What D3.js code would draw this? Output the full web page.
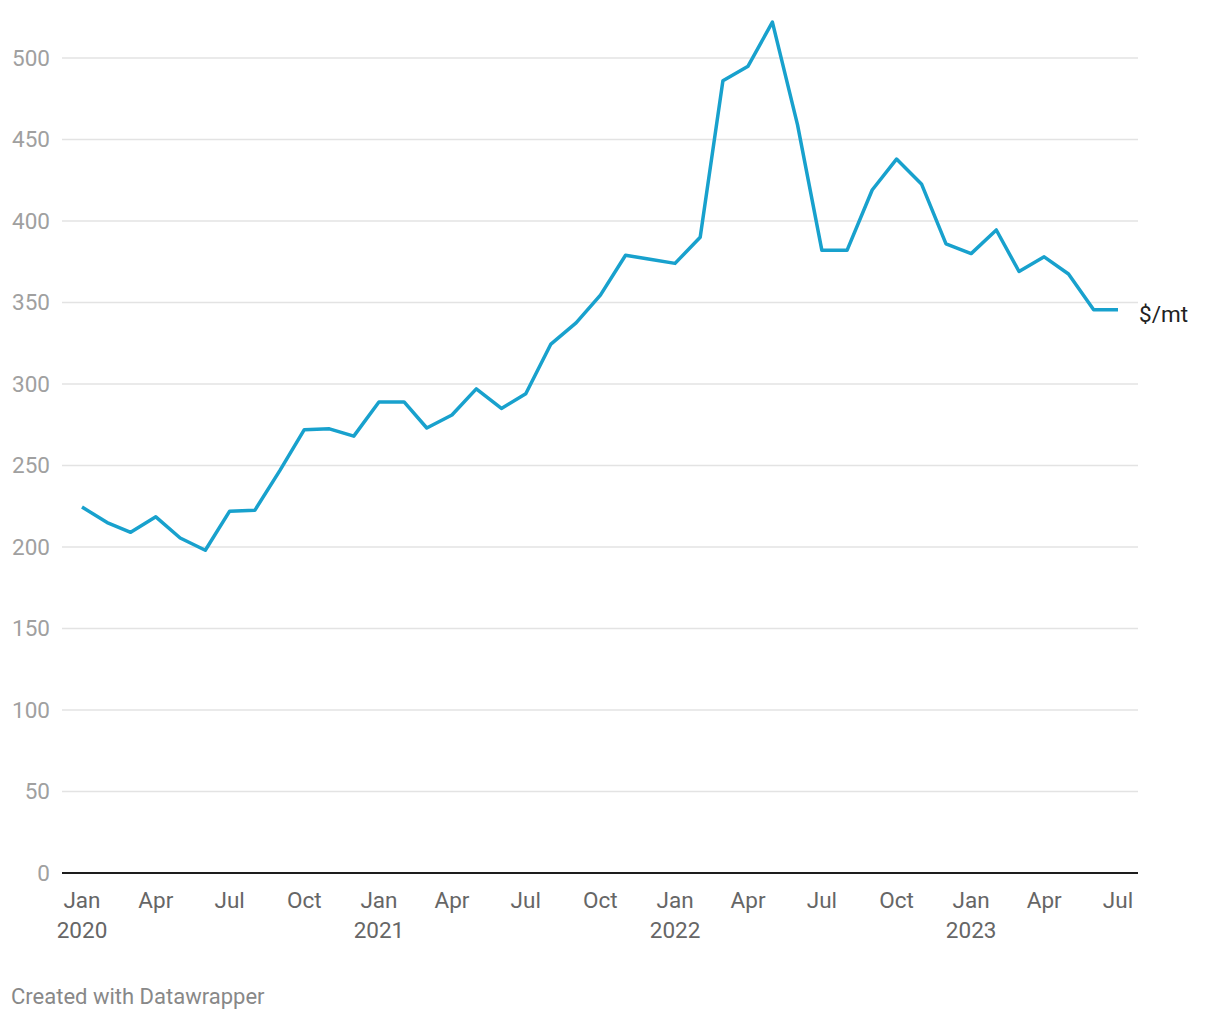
<!DOCTYPE html>
<html>
<head>
<meta charset="utf-8">
<script src="https://cdn.jsdelivr.net/npm/d3@7"></script>
<style>
  body { margin: 0; background: #fff; font-family: Roboto, "Noto Sans", sans-serif; }
</style>
</head>
<body>
<script>
// monthly prices, Jan 2020 .. Jul 2023
var startMonth = "2020-01";
var prices = [224.5, 215, 209, 218.5, 205.5, 198, 222, 222.5, 247, 272, 272.5, 268,
              289, 289, 273, 281, 297, 285, 294, 324.5, 337.5, 354.5, 379, 376.5,
              374, 390, 486, 495, 522, 459, 382, 382, 419, 438, 422.5, 386,
              380, 394.5, 369, 378, 367.5, 345.5, 345.5];
var yTicks = [0, 50, 100, 150, 200, 250, 300, 350, 400, 450, 500];
var unitLabel = "$/mt";

var width = 1220, height = 1020;
var plotLeft = 62, plotRight = 1138, plotTop = 58, plotBottom = 873;

var parse = d3.timeParse("%Y-%m");
var t0 = parse(startMonth);
var data = prices.map(function(v, i) { return { date: d3.timeMonth.offset(t0, i), value: v }; });

var svg = d3.select("body").append("svg").attr("width", width).attr("height", height);

var x = d3.scaleTime()
    .domain(d3.extent(data, function(d) { return d.date; }))
    .range([plotLeft + 20, plotRight - 20]);
var y = d3.scaleLinear().domain([0, 500]).range([plotBottom, plotTop]);

// grid
svg.append("g").selectAll("line").data(yTicks.filter(function(t) { return t > 0; }))
  .enter().append("line")
  .attr("x1", plotLeft).attr("x2", plotRight)
  .attr("y1", function(d) { return y(d); }).attr("y2", function(d) { return y(d); })
  .attr("stroke", "#e3e3e3").attr("stroke-width", 1.5);

// y labels
svg.append("g").selectAll("text").data(yTicks)
  .enter().append("text")
  .attr("x", 50).attr("y", function(d) { return y(d); })
  .attr("dy", "0.35em").attr("text-anchor", "end")
  .attr("fill", "#a0a0a0").style("font-size", "22.5px")
  .text(function(d) { return d; });

// baseline
svg.append("line").attr("x1", plotLeft).attr("x2", plotRight)
  .attr("y1", y(0)).attr("y2", y(0))
  .attr("stroke", "#1d1d1d").attr("stroke-width", 2);

// x labels
var xTicks = data.filter(function(d, i) { return i % 3 == 0; }).map(function(d) { return d.date; });
var xl = svg.append("g").selectAll("text").data(xTicks).enter().append("text")
  .attr("x", function(d) { return x(d); }).attr("y", 908)
  .attr("text-anchor", "middle").attr("fill", "#666").style("font-size", "22.5px");
xl.append("tspan").attr("x", function(d) { return x(d); })
  .text(function(d) { return d3.timeFormat("%b")(d); });
xl.filter(function(d) { return d.getMonth() == 0; })
  .append("tspan").attr("x", function(d) { return x(d); }).attr("dy", 30)
  .text(function(d) { return d.getFullYear(); });

// line
var line = d3.line().x(function(d) { return x(d.date); }).y(function(d) { return y(d.value); });
svg.append("path").datum(data).attr("d", line)
  .attr("fill", "none").attr("stroke", "#18a1cd").attr("stroke-width", 3.5)
  .attr("stroke-linejoin", "round");

var last = data[data.length - 1];
svg.append("text").attr("x", x(last.date) + 21).attr("y", y(last.value) + 4)
  .attr("dy", "0.35em").attr("fill", "#222").style("font-size", "22.5px")
  .text(unitLabel);

svg.append("text").attr("x", 11).attr("y", 1004)
  .attr("fill", "#888").style("font-size", "22px")
  .text("Created with Datawrapper");
</script>
</body>
</html>
